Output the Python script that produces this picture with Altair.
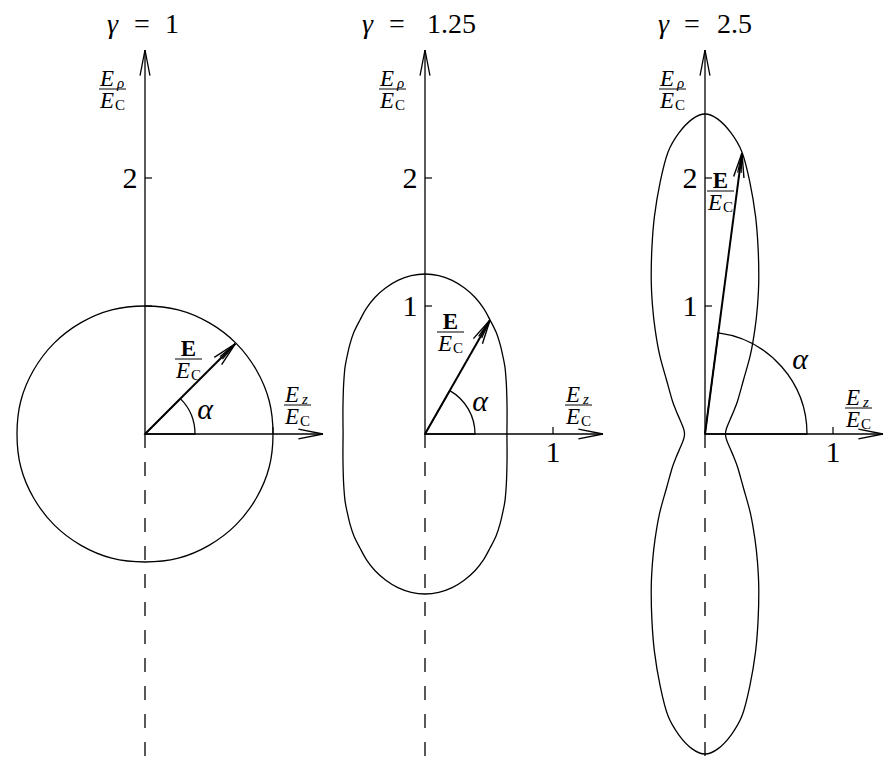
import altair as alt
import numpy as np
import pandas as pd

# ---------------- data ----------------
panel_gamma = ["1", "1.25", "2.5"]

# upper-right quarter of each field outline E/E_C : (E_z/E_C, E_rho/E_C)
circle_ez = [1.00, 0.97, 0.87, 0.71, 0.50, 0.26, 0.00]
circle_erho = [0.00, 0.26, 0.50, 0.71, 0.87, 0.97, 1.00]

g125_ez = [0.64, 0.641, 0.641, 0.639, 0.635, 0.625, 0.608, 0.587, 0.556, 0.508, 0.458, 0.39, 0.306, 0.212, 0.108, 0.0]
g125_erho = [0.0, 0.10, 0.20, 0.30, 0.40, 0.52, 0.61, 0.70, 0.794, 0.891, 0.981, 1.068, 1.142, 1.20, 1.237, 1.25]

g25_ez = [0.16, 0.163, 0.172, 0.195, 0.225, 0.255, 0.30, 0.355, 0.39, 0.41, 0.42, 0.415, 0.395, 0.35, 0.29, 0.205, 0.10, 0.0]
g25_erho = [0.0, 0.025, 0.055, 0.11, 0.18, 0.26, 0.42, 0.62, 0.82, 1.0, 1.2, 1.45, 1.7, 1.97, 2.2, 2.35, 2.46, 2.5]

curves_ez = [circle_ez, g125_ez, g25_ez]
curves_erho = [circle_erho, g125_erho, g25_erho]

# tip of the drawn field vector E/E_C in each panel
vector_ez = [0.705, 0.508, 0.289]
vector_erho = [0.705, 0.891, 2.195]

# axis extent and ticks
axis_rho_end = 3.0
axis_z_end = 1.39
rho_ticks = [1, 2]
z_ticks = [1]
rho_tick_labels = [["2"], ["1", "2"], ["1", "2"]]
z_tick_labels = [[], ["1"], ["1"]]

# ---------------- layout ----------------
SCALE = 128.0          # px per unit
H = 758
X0 = 137               # px from the panel's left edge to the origin
Y0 = 426               # px from the top to the origin
WIDTHS = [280, 280, 318]
YMIN, YMAX = -(H - Y0) / SCALE, Y0 / SCALE
FONT = "Liberation Serif, Times New Roman, DejaVu Serif, serif"

# per-panel annotation placement (px offsets from the origin)
LAYOUT = [
    dict(gx=-38, eqx=-11, nx=20, vec_lab=(30, 75), alpha_lab=(60, 16), arc_r=50, zlab=(139, 29)),
    dict(gx=-63, eqx=-36, nx=2, vec_lab=(12, 102), alpha_lab=(55, 24), arc_r=50, zlab=(140, 29)),
    dict(gx=-47, eqx=-21, nx=12, vec_lab=(2, 243), alpha_lab=(95, 66), arc_r=102, zlab=(140, 26)),
]


def p(v):
    return v / SCALE


def full_loop(ez, erho):
    n = len(ez)
    pts = [(ez[i], erho[i]) for i in range(n)]
    pts += [(-ez[i], erho[i]) for i in range(n - 2, -1, -1)]
    pts += [(-ez[i], -erho[i]) for i in range(1, n)]
    pts += [(ez[i], -erho[i]) for i in range(n - 2, 0, -1)]
    return pd.DataFrame({"x": [a for a, _ in pts], "y": [b for _, b in pts], "i": list(range(len(pts)))})


def barbs(tx, ty, dx, dy, length_px, half_deg, w):
    ang = np.arctan2(dy, dx)
    out = []
    for s in (-1, 1):
        a = ang + np.pi + s * np.radians(half_deg)
        out.append(dict(x=tx, y=ty, x2=tx + p(length_px) * np.cos(a), y2=ty + p(length_px) * np.sin(a), w=w))
    return out


def fraction(xl, yl, num, num_sub, num_style, rows, segs, width=27):
    if num_sub is None:
        rows.append(dict(x=p(xl + width / 2), y=p(yl + 3), text=num, size=23, style="bold", align="center"))
    else:
        rows.append(dict(x=p(xl + 1), y=p(yl + 3), text=num, size=23, style=num_style, align="left"))
        rows.append(dict(x=p(xl + 18), y=p(yl + 1), text=num_sub, size=15, style="italic", align="left"))
    segs.append(dict(x=p(xl), y=p(yl), x2=p(xl + width), y2=p(yl), w=1.0))
    rows.append(dict(x=p(xl + 1), y=p(yl - 19), text="E", size=23, style="italic", align="left"))
    rows.append(dict(x=p(xl + 16), y=p(yl - 21), text="C", size=15, style="roman", align="left"))


def panel(k):
    L = LAYOUT[k]
    w = WIDTHS[k]
    xs = alt.Scale(domain=[-X0 / SCALE, (w - X0) / SCALE], nice=False, zero=False)
    ys = alt.Scale(domain=[YMIN, YMAX], nice=False, zero=False)

    curve = alt.Chart(full_loop(curves_ez[k], curves_erho[k])).mark_line(
        interpolate="cardinal-closed", color="black", strokeWidth=1.3
    ).encode(
        x=alt.X("x:Q", scale=xs, axis=None),
        y=alt.Y("y:Q", scale=ys, axis=None),
        order="i:Q",
    )

    segs = []
    segs.append(dict(x=0, y=0, x2=0, y2=axis_rho_end, w=1.3))
    segs.append(dict(x=0, y=0, x2=axis_z_end, y2=0, w=1.3))
    segs += barbs(0, axis_rho_end, 0, 1, 26, 11, 1.3)
    segs += barbs(axis_z_end, 0, 1, 0, 25, 11, 1.3)
    for t in rho_ticks:
        segs.append(dict(x=0, y=t, x2=p(7), y2=t, w=1.2))
    for t in z_ticks:
        segs.append(dict(x=t, y=0, x2=t, y2=p(7), w=1.2))
    vx, vy = vector_ez[k], vector_erho[k]
    segs.append(dict(x=0, y=0, x2=vx, y2=vy, w=2.0))
    segs += barbs(vx, vy, vx, vy, 25, 12, 1.4)
    segs += barbs(vx, vy, vx, vy, 20, 5, 1.2)

    rows = []
    # title
    rows.append(dict(x=p(L["gx"]), y=p(401), text="γ", size=28, style="italic", align="left"))
    rows.append(dict(x=p(L["eqx"]), y=p(401), text="=", size=28, style="roman", align="left"))
    rows.append(dict(x=p(L["nx"]), y=p(401), text=panel_gamma[k], size=28, style="roman", align="left"))
    # axis labels
    fraction(-46, 345, "E", "ρ", "italic", rows, segs)
    fraction(L["zlab"][0], L["zlab"][1], "E", "z", "italic", rows, segs)
    # vector label
    fraction(L["vec_lab"][0], L["vec_lab"][1], "E", None, "bold", rows, segs)
    # alpha
    rows.append(dict(x=p(L["alpha_lab"][0]), y=p(L["alpha_lab"][1] - 1), text="α", size=30, style="italic", align="center"))
    # tick labels
    for lab in rho_tick_labels[k]:
        rows.append(dict(x=p(-15), y=float(lab) - p(10), text=lab, size=30, style="roman", align="center"))
    for lab in z_tick_labels[k]:
        rows.append(dict(x=float(lab), y=-p(28), text=lab, size=30, style="roman", align="center"))

    seg_df = pd.DataFrame(segs)
    solid = alt.Chart(seg_df).mark_rule(color="black", strokeCap="butt").encode(
        x=alt.X("x:Q", scale=xs, axis=None), y=alt.Y("y:Q", scale=ys, axis=None),
        x2="x2:Q", y2="y2:Q", strokeWidth=alt.StrokeWidth("w:Q", scale=None),
    )
    dashed = alt.Chart(pd.DataFrame({"x": [0.0], "y": [0.0], "y2": [YMIN]})).mark_rule(
        color="black", strokeWidth=1.3, strokeDash=[14, 14]
    ).encode(x=alt.X("x:Q", scale=xs, axis=None), y=alt.Y("y:Q", scale=ys, axis=None), y2="y2:Q")

    alpha = np.pi / 2 - np.arctan2(vy, vx)
    arc = alt.Chart(pd.DataFrame({"x": [0.0], "y": [0.0]})).mark_arc(
        theta=float(alpha), theta2=float(np.pi / 2), radius=L["arc_r"], filled=False,
        stroke="black", strokeWidth=1.3, fill=None,
    ).encode(x=alt.X("x:Q", scale=xs, axis=None), y=alt.Y("y:Q", scale=ys, axis=None))

    tdf = pd.DataFrame(rows)
    layers = [curve, dashed, solid, arc]
    for (style, align), g in tdf.groupby(["style", "align"]):
        kw = dict(font=FONT, baseline="alphabetic", align=align, color="black")
        if style == "italic":
            kw["fontStyle"] = "italic"
        if style == "bold":
            kw["fontWeight"] = "bold"
        layers.append(
            alt.Chart(g).mark_text(**kw).encode(
                x=alt.X("x:Q", scale=xs, axis=None), y=alt.Y("y:Q", scale=ys, axis=None),
                text="text:N", size=alt.Size("size:Q", scale=None),
            )
        )
    return alt.layer(*layers).properties(width=w, height=H)


chart = alt.hconcat(panel(0), panel(1), panel(2), spacing=0, bounds="flush").properties(
    padding=0
).configure_view(stroke=None)

chart.save("out.html", embed_options={"renderer": "svg", "actions": False})
